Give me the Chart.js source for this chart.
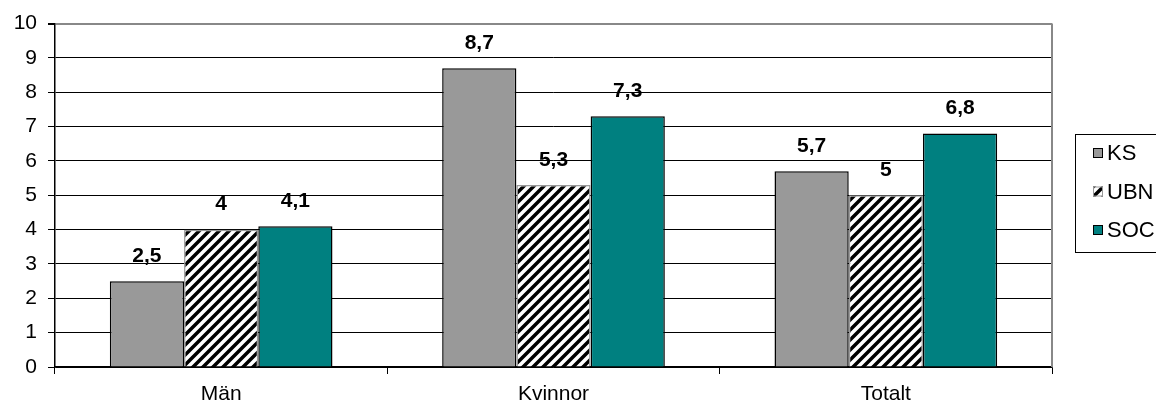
<!DOCTYPE html>
<html>
<head>
<meta charset="utf-8">
<script src="https://cdn.jsdelivr.net/npm/chart.js@4"></script>
<style>
    body { margin: 0; background: #fff; }
</style>
</head>
<body>
<canvas id="chart" width="1156" height="412"></canvas>
<script>
// categories and series
const categories = ["Män", "Kvinnor", "Totalt"];
const seriesNames = ["KS", "UBN", "SOC"];
const ksValues = [2.5, 8.7, 5.7];
const ubnValues = [4, 5.3, 5];
const socValues = [4.1, 7.3, 6.8];

const FONT = "'Liberation Sans', Arial, sans-serif";

// diagonal hatch for the UBN bars
const makeHatch = () => {
    const c = document.createElement("canvas");
    c.width = 10;
    c.height = 10;
    const g = c.getContext("2d");
    g.fillStyle = "#fff";
    g.fillRect(0, 0, 10, 10);
    g.strokeStyle = "#000";
    g.lineWidth = 3.5;
    g.beginPath();
    g.moveTo(-5, 5); g.lineTo(5, -5);
    g.moveTo(0, 10); g.lineTo(10, 0);
    g.moveTo(5, 15); g.lineTo(15, 5);
    g.stroke();
    return document.getElementById("chart").getContext("2d").createPattern(c, "repeat");
};
const hatch = makeHatch();

// value labels over the bars
const valueLabels = {
    id: "valueLabels",
    afterDatasetsDraw(chart) {
        const ctx = chart.ctx;
        ctx.save();
        ctx.font = "bold 21px " + FONT;
        ctx.fillStyle = "#000";
        ctx.textAlign = "center";
        ctx.textBaseline = "middle";
        chart.data.datasets.forEach((ds, i) => {
            chart.getDatasetMeta(i).data.forEach((bar, j) => {
                ctx.fillText(String(ds.data[j]).replace(".", ","), bar.x, bar.y - 25);
            });
        });
        ctx.restore();
    },
};

// gray plot frame on the right side + legend box
const frameAndLegend = {
    id: "frameAndLegend",
    afterDraw(chart) {
        const ctx = chart.ctx;
        const a = chart.chartArea;
        ctx.save();
        ctx.strokeStyle = "#888";
        ctx.lineWidth = 2;
        ctx.beginPath();
        ctx.moveTo(a.right, a.top);
        ctx.lineTo(a.right, a.bottom);
        ctx.stroke();

        // legend (runs off the right edge like the original)
        ctx.strokeStyle = "#000";
        ctx.lineWidth = 1;
        ctx.strokeRect(1075.5, 134.5, 140, 118);
        ctx.font = "22px " + FONT;
        ctx.textBaseline = "middle";
        chart.data.datasets.forEach((ds, i) => {
            const y = 153 + i * 38.5;
            ctx.fillStyle = ds.backgroundColor;
            ctx.fillRect(1093, y - 5, 10, 10);
            ctx.strokeStyle = ds.borderColor;
            ctx.lineWidth = 1;
            ctx.strokeRect(1093.5, y - 4.5, 9, 9);
            ctx.fillStyle = "#000";
            ctx.fillText(ds.label, 1107, y + 1);
        });
        ctx.restore();
    },
};

new Chart(document.getElementById("chart"), {
    type: "bar",
    data: {
        labels: categories,
        datasets: [
            { label: seriesNames[0], data: ksValues, backgroundColor: "#999999", borderColor: "#000", borderWidth: 1.5 },
            { label: seriesNames[1], data: ubnValues, backgroundColor: hatch, borderColor: "#999999", borderWidth: 1.5 },
            { label: seriesNames[2], data: socValues, backgroundColor: "#008080", borderColor: "#000", borderWidth: 1.5 },
        ],
    },
    options: {
        responsive: false,
        animation: false,
        layout: { padding: { top: 23, right: 104, left: 0, bottom: 0 } },
        datasets: { bar: { categoryPercentage: 0.67, barPercentage: 1 } },
        plugins: {
            legend: { display: false },
            tooltip: { enabled: false },
        },
        scales: {
            x: {
                afterFit: (s) => { s.height = 45; },
                grid: { display: true, drawOnChartArea: false, offset: true, tickLength: 7, color: "#000" },
                border: { color: "#000", width: 1.5 },
                ticks: { color: "#000", font: { family: FONT, size: 21 }, padding: 8 },
            },
            y: {
                min: 0,
                max: 10,
                afterFit: (s) => { s.width = 55; },
                grid: {
                    color: (c) => (c.tick && c.tick.value === 10 ? "#888" : "#000"),
                    lineWidth: (c) => (c.tick && c.tick.value === 10 ? 2 : 1),
                    tickColor: "#000",
                    tickLength: 7,
                },
                border: { color: "#000", width: 1.5 },
                ticks: { stepSize: 1, color: "#000", font: { family: FONT, size: 21 }, padding: 11 },
            },
        },
    },
    plugins: [valueLabels, frameAndLegend],
});
</script>
</body>
</html>
